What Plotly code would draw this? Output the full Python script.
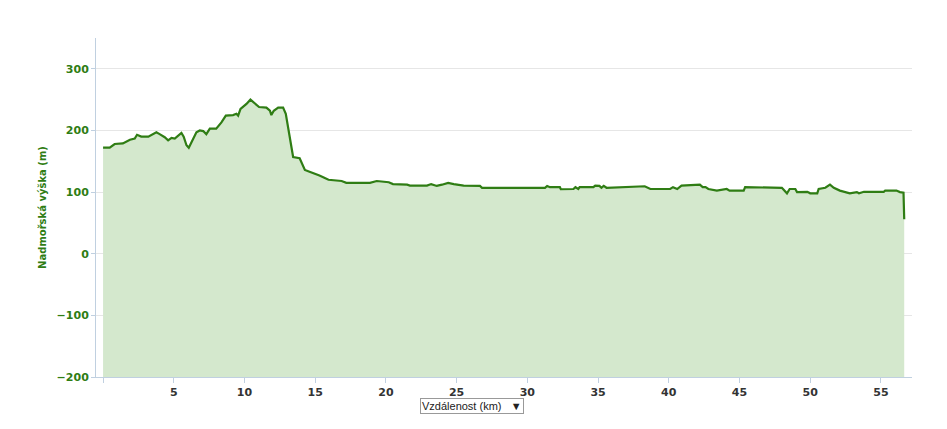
import plotly.graph_objects as go

# profil trasy: vzdalenost (km) a nadmorska vyska (m)
km = [0.0, 0.47, 0.82, 1.4, 1.9, 2.24, 2.4, 2.7, 3.2, 3.77, 4.0, 4.36, 4.6, 4.84,
      5.07, 5.3, 5.54, 5.7, 5.9, 6.06, 6.25, 6.6, 6.84, 7.08, 7.3, 7.55, 8.0,
      8.37, 8.68, 9.19, 9.43, 9.55, 9.72, 10.14, 10.42, 10.6, 11.03, 11.55, 11.8,
      11.9, 12.07, 12.38, 12.73, 12.92, 13.2, 13.44, 13.9, 14.27, 14.6, 15.3,
      15.94, 16.27, 16.87, 17.2, 18.87, 19.35, 20.2, 20.5, 21.5, 21.7, 22.9,
      23.2, 23.6, 23.96, 24.4, 24.8, 25.5, 26.65, 26.8, 31.25, 31.4, 31.6,
      32.3, 32.37, 33.26, 33.4, 33.6, 33.7, 34.67, 34.8, 35.1, 35.24, 35.4,
      35.6, 38.3, 38.7, 40.1, 40.3, 40.6, 40.9, 42.2, 42.4, 42.6, 42.8, 43.4,
      44.1, 44.3, 45.3, 45.4, 48.0, 48.24, 48.36, 48.55, 48.95, 49.07, 49.8,
      50.0, 50.5, 50.6, 51.07, 51.4, 51.67, 52.1, 52.8, 53.3, 53.45, 53.8,
      55.2, 55.3, 56.1, 56.35, 56.6, 56.65]
vyska = [172, 172, 178, 179, 185, 187, 193, 190, 190, 197, 194, 189, 184, 188,
         187, 192, 196, 190, 176, 172, 181, 197, 200, 199, 194, 203, 203,
         213, 224, 225, 227, 224, 235, 243, 250, 246, 238, 237, 232,
         225, 232, 237, 237, 227, 189, 157, 155, 136, 133, 127,
         120, 119, 118, 115, 115, 118, 116, 113, 112, 110.5, 110.5,
         113, 110, 112, 115, 113, 110.5, 110, 107, 107, 110, 108,
         108, 104.6, 105, 108, 105, 108, 108, 110.5, 110, 107, 110,
         107, 109.5, 105, 105, 108, 105, 110.5, 112, 108, 108, 105, 102.4,
         105, 102.4, 102.4, 108, 107, 101, 98, 105, 105, 100, 100.5,
         98, 98, 105, 107, 112, 107, 102.4, 98, 100, 98, 100.5,
         100.5, 102.4, 102.4, 100, 99, 56]

x_ticks = [0, 5, 10, 15, 20, 25, 30, 35, 40, 45, 50, 55]
x_labels = [""] + ["<b>%d</b>" % v for v in x_ticks[1:]]
y_ticks = [-200, -100, 0, 100, 200, 300]
y_labels = ["<b>\u2212200</b>", "<b>\u2212100</b>", "<b>0</b>", "<b>100</b>", "<b>200</b>", "<b>300</b>"]

zelena = "#2f7d14"
osa = "#c0d0e0"
pismo = "DejaVu Sans, Verdana, sans-serif"

fig = go.Figure()

# spodni hranice pro vyplneni plochy
fig.add_trace(go.Scatter(
    x=[km[0], km[-1]], y=[y_ticks[0], y_ticks[0]],
    mode="lines", line=dict(width=0), hoverinfo="skip", showlegend=False
))

fig.add_trace(go.Scatter(
    x=km, y=vyska,
    mode="lines",
    line=dict(color=zelena, width=2.2),
    fill="tonexty",
    fillcolor="rgb(212,232,205)",
    name="Nadmořská výška",
    showlegend=False
))

# stranka ma okraj 8 px, proto o neco mensi figura
fig.update_layout(
    width=939, height=421,
    margin=dict(l=88, r=35, t=30, b=52),
    paper_bgcolor="white", plot_bgcolor="white",
    font=dict(family=pismo),
    xaxis=dict(
        range=[-0.5, 57.2],
        tickvals=x_ticks, ticktext=x_labels,
        showgrid=False, zeroline=False,
        showline=True, linecolor=osa, linewidth=1,
        ticks="outside", ticklen=5, tickcolor=osa,
        tickfont=dict(size=11, color="#333333", family=pismo),
    ),
    yaxis=dict(
        range=[-200, 350],
        tickvals=y_ticks, ticktext=y_labels,
        showgrid=True, gridcolor="#e6e6e6", zeroline=False,
        showline=True, linecolor=osa, linewidth=1,
        ticks="outside", ticklen=4, tickcolor=osa,
        tickfont=dict(size=11, color=zelena, family=pismo),
        title=dict(text="<b>Nadmořská výška (m)</b>", standoff=8,
                   font=dict(size=10, color=zelena)),
    ),
)

# vyber osy x (v originale rozbalovaci seznam)
fig.add_annotation(
    xref="paper", yref="paper", x=0.461, y=-0.062, yanchor="top",
    text="Vzdálenost (km)   \u25bc", showarrow=False,
    font=dict(size=11, color="#222222", family="Arial, Liberation Sans, sans-serif"),
    bordercolor="#999999", borderwidth=1, borderpad=1, bgcolor="white",
)

fig.write_html("out.html")
